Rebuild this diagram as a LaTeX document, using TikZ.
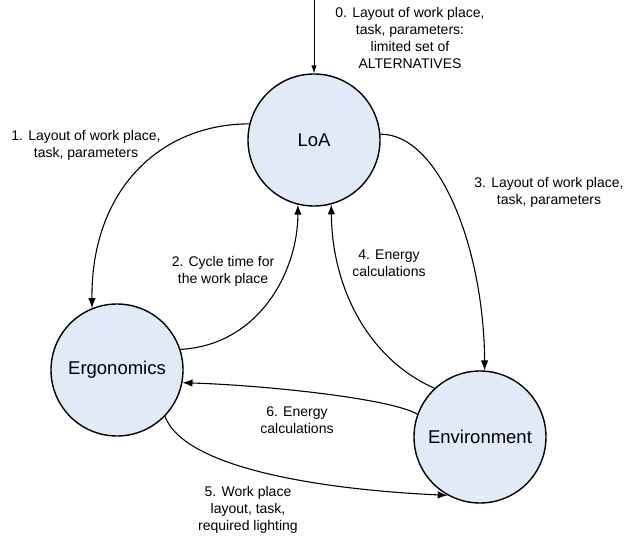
\documentclass[tikz,border=0pt]{standalone}
\usepackage{fontspec}
\setmainfont{Liberation Sans}
\usetikzlibrary{arrows.meta}
\definecolor{nodefill}{RGB}{227,234,247}
\tikzset{
  statenode/.style={circle, draw=black, line width=1.4pt, fill=nodefill, minimum size=132pt, inner sep=0pt, font=\fontsize{18.5}{22}\selectfont},
  lbl/.style={align=center, inner sep=0pt, font=\fontsize{14}{16.8}\selectfont},
  flow/.style={line width=1.1pt, -{Latex[length=10pt,width=7.5pt]}},
  inflow/.style={line width=0.9pt, -{Latex[length=8pt,width=5.5pt]}}
}
\begin{document}
\begin{tikzpicture}[x=1pt,y=-1pt]
\useasboundingbox (0,0) rectangle (625,536);
\fill[white] (0,0) rectangle (625,536);

\node[statenode] (loa)  at (314,140) {LoA};
\node[statenode] (ergo) at (117,370) {Ergonomics};
\node[statenode] (env)  at (480,437) {Environment};

\coordinate (top) at (314,0);

\node[lbl] (l0) at (410,38) {0. Layout of work place,\\task, parameters:\\limited set of\\ALTERNATIVES};
\node[lbl] (l1) at (86,145) {1. Layout of work place,\\task, parameters};
\node[lbl] (l2) at (223,271) {2. Cycle time for\\the work place};
\node[lbl] (l3) at (549,192) {3. Layout of work place,\\task, parameters};
\node[lbl] (l4) at (389,263) {4. Energy\\calculations};
\node[lbl] (l5) at (248,510) {5. Work place\\layout, task,\\required lighting};
\node[lbl] (l6) at (297,420) {6. Energy\\calculations};

\draw[inflow] (top) -- (loa.north);
\draw[flow] (loa.166) .. controls (160,124) and (91,190) .. (ergo.112);
\draw[flow] (ergo.18) .. controls (260,345) and (298,270) .. (loa.256);
\draw[flow] (loa.5) .. controls (440,134) and (484,250) .. (env.86);
\draw[flow] (env.133) .. controls (370,360) and (332,290) .. (loa.285);
\draw[flow] (ergo.316) .. controls (185,470) and (330,490) .. (env.241);
\draw[flow] (env.160) .. controls (390,398) and (260,385) .. (ergo.349);
\end{tikzpicture}
\end{document}
